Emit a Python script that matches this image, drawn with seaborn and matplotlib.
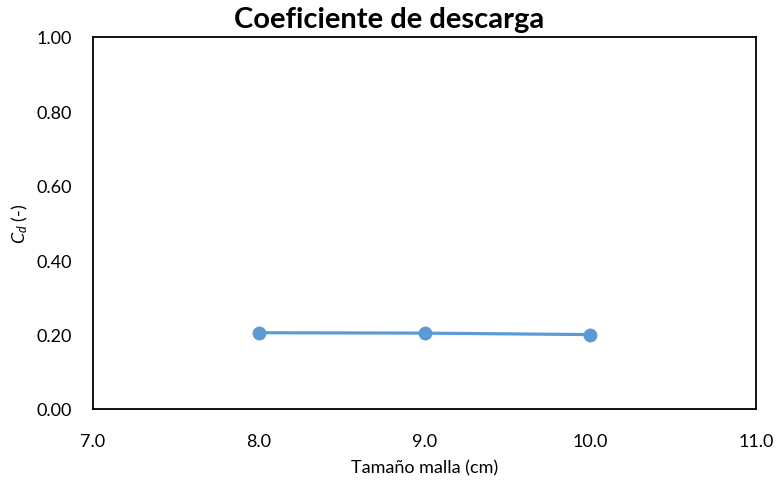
import matplotlib
matplotlib.use("Agg")
import matplotlib.pyplot as plt
import seaborn as sns
import pandas as pd

# Mesh size (cm) and discharge coefficient
mesh_size = [8.0, 9.0, 10.0]
cd_values = [0.205, 0.204, 0.200]
x_ticks = [7.0, 8.0, 9.0, 10.0, 11.0]
y_ticks = [0.0, 0.2, 0.4, 0.6, 0.8, 1.0]

sns.set_theme(style="white")
plt.rcParams["font.family"] = ["Lato", "DejaVu Sans"]
plt.rcParams["mathtext.fontset"] = "custom"
plt.rcParams["mathtext.it"] = "Lato:italic"
plt.rcParams["mathtext.rm"] = "Lato"
plt.rcParams["text.color"] = "black"
plt.rcParams["axes.labelcolor"] = "black"

df = pd.DataFrame({"mesh": mesh_size, "cd": cd_values})

fig = plt.figure(figsize=(7.79, 4.85), dpi=100)
ax = fig.add_axes([93 / 779, 1 - 410 / 485, (756 - 93) / 779, (410 - 38) / 485])

sns.lineplot(data=df, x="mesh", y="cd", ax=ax, color="#5B9BD5", linewidth=2.3,
             marker="o", markersize=10, markeredgewidth=0, markeredgecolor="#5B9BD5")

ax.set_xlim(7.0, 11.0)
ax.set_ylim(0.0, 1.0)
ax.set_xticks(x_ticks)
ax.set_yticks(y_ticks)
ax.set_xticklabels([f"{v:.1f}" for v in x_ticks])
ax.set_yticklabels([f"{v:.2f}" for v in y_ticks])
ax.tick_params(axis="both", length=0, labelsize=13, colors="black")
ax.tick_params(axis="x", pad=17)
ax.tick_params(axis="y", pad=15)

for s in ax.spines.values():
    s.set_visible(True)
    s.set_color("black")
    s.set_linewidth(1.3)

ax.set_xlabel("Tamaño malla (cm)", fontsize=13, labelpad=8)
ax.set_ylabel(r"$C_d$ (-)", fontsize=13, labelpad=5)
fig.text(0.5, 1 - 20 / 485, "Coeficiente de descarga", fontsize=21,
         fontweight="bold", ha="center", va="center", color="black")

fig.savefig("out.png", dpi=100, facecolor="white")
